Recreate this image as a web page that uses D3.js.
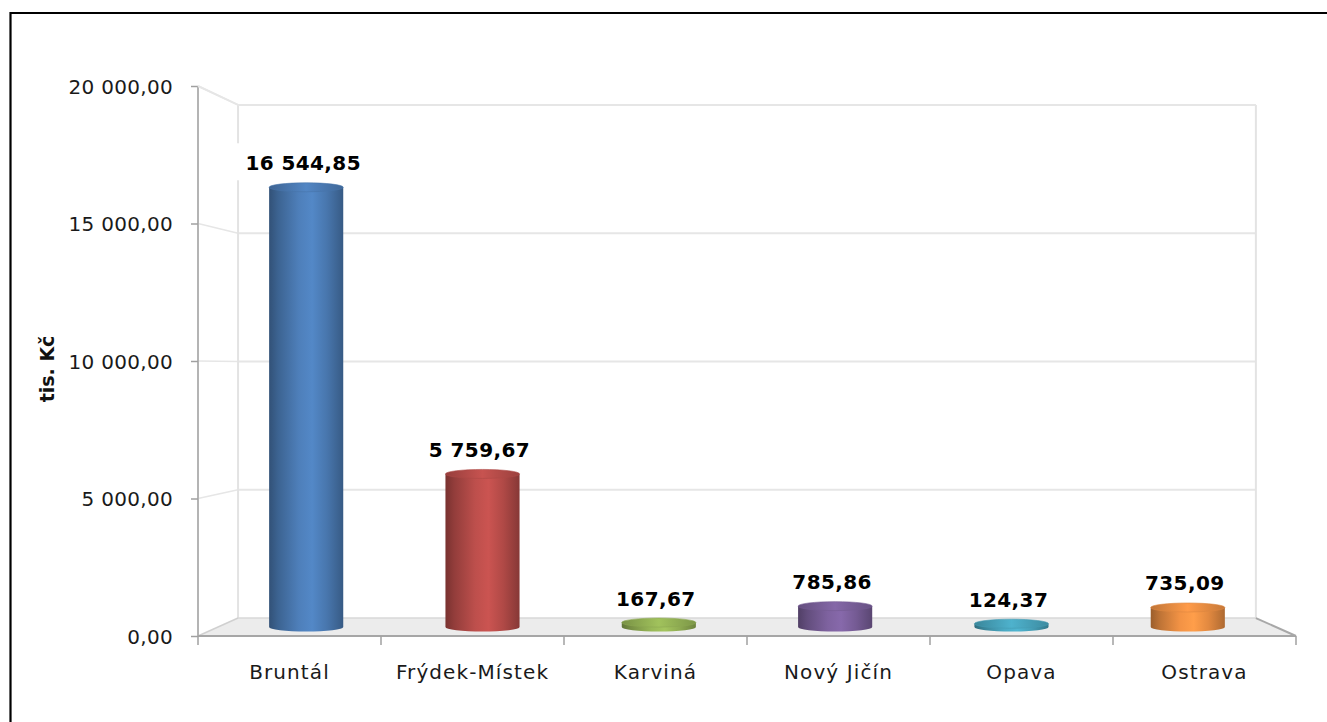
<!DOCTYPE html>
<html><head><meta charset="utf-8">
<script src="https://cdn.jsdelivr.net/npm/d3@7"></script>
<style>html,body{margin:0;padding:0;background:#fff;overflow:hidden;}svg{display:block;}</style>
</head><body>
<script>
const categories = ["Bruntál","Frýdek-Místek","Karviná","Nový Jičín","Opava","Ostrava"];
const values = [16544.85, 5759.67, 167.67, 785.86, 124.37, 735.09];
const valueLabels = ["16 544,85","5 759,67","167,67","785,86","124,37","735,09"];
const barColors = ["#4f81bd","#c0504d","#9bbb59","#8064a2","#4bacc6","#f79646"];
const yTicks = [0, 5000, 10000, 15000, 20000];
const yTickLabels = ["0,00","5 000,00","10 000,00","15 000,00","20 000,00"];
const yTitle = "tis. Kč";

const W = 1327, H = 722;
const svg = d3.select("body").append("svg").attr("width", W).attr("height", H);
const defs = svg.append("defs");

const x = d3.scaleBand().domain(categories).range([198, 1296]).paddingInner(0).paddingOuter(0);
const y = d3.scaleLinear().domain([0, 20000]).range([636, 86]);

// perspective toward vanishing center
const cx = 746.6, cy = 368, kxBack = 0.927, kyBack = 0.933;
function P(xf, yf, d) {
  const kx = 1 - d * (1 - kxBack), ky = 1 - d * (1 - kyBack);
  return [cx + (xf - cx) * kx, cy + (yf - cy) * ky];
}

// outer border (left and top visible)
svg.append("path").attr("d", `M10.5,${H}V13H${W}`)
  .attr("fill", "none").attr("stroke", "#000").attr("stroke-width", 2.2);

const x0 = x.range()[0], x1 = x.range()[1];
const y0 = y(0), yTop = y(20000);

// back wall gridlines
const grid = svg.append("g");
yTicks.forEach(t => {
  if (t === 0) return;
  const a = P(x0, y(t), 1), b = P(x1, y(t), 1);
  grid.append("line").attr("x1", a[0]).attr("y1", a[1]).attr("x2", b[0]).attr("y2", b[1])
    .attr("stroke", "#e6e6e6").attr("stroke-width", 2);
  const f = P(x0, y(t), 0);
  grid.append("line").attr("x1", f[0]).attr("y1", f[1]).attr("x2", a[0]).attr("y2", a[1])
    .attr("stroke", "#e6e6e6").attr("stroke-width", 1.5);
});
{
  const tl = P(x0, yTop, 1), bl = P(x0, y0, 1), tr = P(x1, yTop, 1), br = P(x1, y0, 1);
  grid.append("line").attr("x1", tl[0]).attr("y1", tl[1]).attr("x2", bl[0]).attr("y2", bl[1])
    .attr("stroke", "#e3e3e3").attr("stroke-width", 2);
  grid.append("line").attr("x1", tr[0]).attr("y1", tr[1]).attr("x2", br[0]).attr("y2", br[1])
    .attr("stroke", "#e3e3e3").attr("stroke-width", 2);
}

// floor
{
  const fl = P(x0, y0, 0), fr = P(x1, y0, 0), bl = P(x0, y0, 1), br = P(x1, y0, 1);
  svg.append("polygon").attr("points", [fl, fr, br, bl].map(p => p.join(",")).join(" "))
    .attr("fill", "#ececec");
  svg.append("line").attr("x1", bl[0]).attr("y1", bl[1]).attr("x2", br[0]).attr("y2", br[1])
    .attr("stroke", "#d8d8d8").attr("stroke-width", 1.5);
  svg.append("line").attr("x1", fl[0]).attr("y1", fl[1]).attr("x2", bl[0]).attr("y2", bl[1])
    .attr("stroke", "#d0d0d0").attr("stroke-width", 1.5);
  svg.append("line").attr("x1", fr[0]).attr("y1", fr[1]).attr("x2", br[0]).attr("y2", br[1])
    .attr("stroke", "#a8a8a8").attr("stroke-width", 2);
}

// Y axis (front)
const yAxisG = svg.append("g").attr("transform", `translate(${x0},0)`)
  .call(d3.axisLeft(y).tickValues(yTicks).tickSize(7).tickFormat((d, i) => yTickLabels[i]));
yAxisG.select(".domain").attr("stroke", "#b4b4b4").attr("stroke-width", 2).attr("d", `M0,${yTop}V${y0}`);
yAxisG.selectAll(".tick line").attr("stroke", "#a0a0a0").attr("stroke-width", 1.5);
yAxisG.selectAll(".tick text").attr("x", -25).attr("dy", "0.36em")
  .attr("font-family", "DejaVu Sans").attr("font-size", 20).attr("letter-spacing", 0.3)
  .attr("fill", "#1a1a1a");
{
  const a = P(x0, yTop, 0), b = P(x0, yTop, 1);
  svg.append("line").attr("x1", a[0]).attr("y1", a[1]).attr("x2", b[0]).attr("y2", b[1])
    .attr("stroke", "#e6e6e6").attr("stroke-width", 2);
  const c = P(x1, yTop, 1);
  svg.append("line").attr("x1", b[0]).attr("y1", b[1]).attr("x2", c[0]).attr("y2", c[1])
    .attr("stroke", "#e6e6e6").attr("stroke-width", 2);
}

// X axis (front)
const bounds = categories.map(c => x(c)).concat([x1]);
const xAxisG = svg.append("g");
xAxisG.append("line").attr("x1", x0).attr("x2", x1).attr("y1", y0).attr("y2", y0)
  .attr("stroke", "#a6a6a6").attr("stroke-width", 2);
bounds.forEach(b => {
  xAxisG.append("line").attr("x1", b).attr("x2", b).attr("y1", y0).attr("y2", y0 + 9)
    .attr("stroke", "#a0a0a0").attr("stroke-width", 1.5);
});
categories.forEach(c => {
  xAxisG.append("text").attr("x", x(c) + x.bandwidth() / 2).attr("y", 679)
    .attr("text-anchor", "middle").attr("font-family", "DejaVu Sans").attr("font-size", 20)
    .attr("letter-spacing", 1.1).attr("fill", "#1a1a1a").text(c);
});

// Y title
svg.append("text").attr("transform", "translate(54,369) rotate(-90)")
  .attr("text-anchor", "middle").attr("font-family", "DejaVu Sans").attr("font-weight", "bold")
  .attr("font-size", 19).attr("fill", "#111").text(yTitle);

// cylinder bars
const barFrac = 0.405;
const bars = svg.append("g");
categories.forEach((c, i) => {
  const col = d3.color(barColors[i]);
  const gid = "g" + i, tid = "t" + i;
  const g = defs.append("linearGradient").attr("id", gid).attr("x1", 0).attr("x2", 1).attr("y1", 0).attr("y2", 0);
  [[0, col.darker(1.3)], [0.12, col.darker(0.75)], [0.4, col.darker(0.05)], [0.58, col.brighter(0.15)],
   [0.78, col.darker(0.25)], [0.95, col.darker(0.8)], [1, col.darker(1.0)]]
    .forEach(([o, cc]) => g.append("stop").attr("offset", o).attr("stop-color", cc.formatHex()));
  const t = defs.append("linearGradient").attr("id", tid).attr("x1", 0).attr("x2", 1).attr("y1", 0).attr("y2", 0);
  [[0, col.darker(0.7)], [0.5, col.brighter(0.1)], [1, col.darker(0.6)]]
    .forEach(([o, cc]) => t.append("stop").attr("offset", o).attr("stop-color", cc.formatHex()));

  const centerF = x(c) + x.bandwidth() / 2;
  const pb = P(centerF, y(0), 0.5);
  const pt = P(centerF, y(values[i]), 0.5);
  const halfW = x.bandwidth() * barFrac / 2;
  const rx = halfW, ry = 4.5;
  const xc = pb[0];
  const g2 = bars.append("g");
  g2.append("path")
    .attr("d", `M${xc - rx},${pt[1]} L${xc - rx},${pb[1]} A${rx},${ry} 0 0 0 ${xc + rx},${pb[1]} L${xc + rx},${pt[1]} Z`)
    .attr("fill", `url(#${gid})`);
  g2.append("ellipse").attr("cx", xc).attr("cy", pt[1]).attr("rx", rx).attr("ry", ry)
    .attr("fill", `url(#${tid})`).attr("stroke", col.darker(0.3).formatHex()).attr("stroke-width", 0.6);

  const baseline = pt[1] - 17;
  const lbl = bars.append("g");
  const txt = lbl.append("text").attr("x", xc - 3).attr("y", baseline).attr("text-anchor", "middle")
    .attr("font-family", "DejaVu Sans").attr("font-weight", "bold").attr("font-size", 20)
    .attr("letter-spacing", 0.4).attr("fill", "#000").text(valueLabels[i]);
  const bb = txt.node().getBBox();
  lbl.insert("rect", "text").attr("x", bb.x - 11).attr("y", baseline - 27)
    .attr("width", bb.width + 22).attr("height", 37).attr("fill", "#fff");
});
</script>
</body></html>
